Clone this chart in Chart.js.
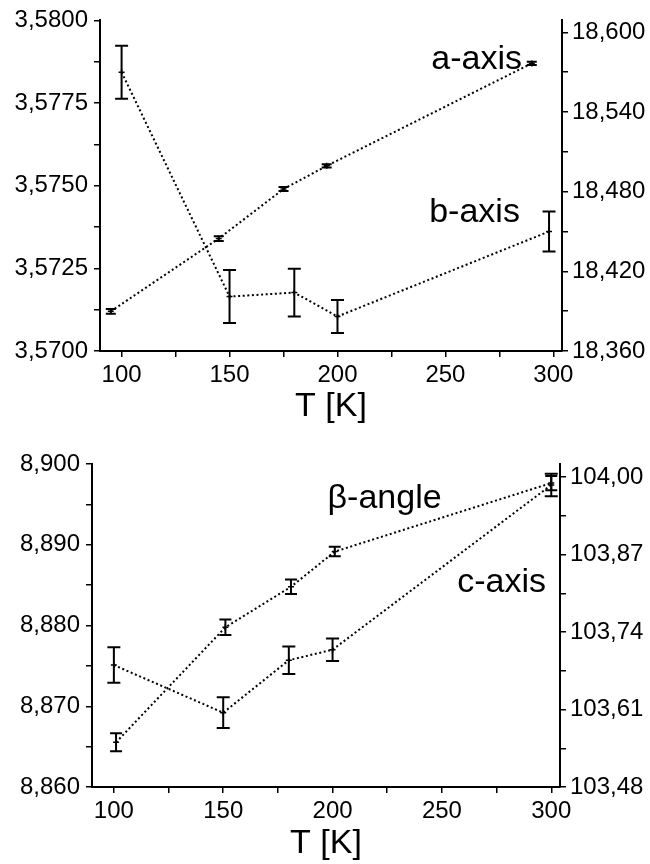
<!DOCTYPE html>
<html>
<head>
<meta charset="utf-8">
<script src="https://cdn.jsdelivr.net/npm/chart.js@4.4.1/dist/chart.umd.min.js"></script>
<style>
  body { margin: 0; background: #fff; }
  .box { position: absolute; left: 0; width: 650px; }
</style>
</head>
<body>
<div class="box" style="top:0;height:430px"><canvas id="chartTop" width="650" height="430"></canvas></div>
<div class="box" style="top:430px;height:434px"><canvas id="chartBottom" width="650" height="434"></canvas></div>
<script>
// Top panel: a-axis (left scale) and b-axis (right scale) vs temperature
const aT = [95, 145, 175, 195, 290];
const aVal = [3.5712, 3.5734, 3.5749, 3.5756, 3.5787];
const aErr = [0.00007, 0.00007, 0.00006, 0.00005, 0.00005];

const bT = [100, 150, 180, 200, 298];
const bVal = [18.570, 18.401, 18.404, 18.386, 18.450];
const bErr = [0.020, 0.020, 0.018, 0.0125, 0.015];

// Bottom panel: c-axis (left scale) and beta angle (right scale)
const cT = [100, 150, 180, 200, 300];
const cVal = [8.8751, 8.8692, 8.8757, 8.8770, 8.8974];
const cErr = [0.0022, 0.0019, 0.0017, 0.0014, 0.0014];

const betaT = [101, 151, 181, 201, 300];
const betaVal = [103.555, 103.748, 103.816, 103.875, 103.990];
const betaErr = [0.015, 0.013, 0.012, 0.008, 0.012];

// tick labels (major ticks); minor ticks go halfway between
const xTicks = [100, 150, 200, 250, 300];
const aTicks = [3.5700, 3.5725, 3.5750, 3.5775, 3.5800];
const bTicks = [18.360, 18.420, 18.480, 18.540, 18.600];
const cTicks = [8.860, 8.870, 8.880, 8.890, 8.900];
const betaTicks = [103.48, 103.61, 103.74, 103.87, 104.00];

const FONT = 'Liberation Sans, Arial, Helvetica, sans-serif';

function withMinors(majors) {
    const out = [];
    majors.forEach((v, i) => {
        out.push(v);
        if (i < majors.length - 1) out.push((v + majors[i + 1]) / 2);
    });
    return out;
}

function toPoints(xs, ys) {
    return xs.map((x, i) => ({ x: x, y: ys[i] }));
}

function comma(v, digits) {
    return v.toFixed(digits).replace('.', ',');
}

// error bars drawn through the chart's own scales
const errorBars = {
    id: 'errorBars',
    afterDatasetsDraw(chart) {
        const ctx = chart.ctx;
        chart.data.datasets.forEach((ds, i) => {
            const meta = chart.getDatasetMeta(i);
            const ys = chart.scales[ds.yAxisID];
            ctx.save();
            ctx.strokeStyle = '#000';
            ctx.lineWidth = 2;
            meta.data.forEach((pt, j) => {
                const v = ds.data[j].y;
                const e = ds.errors[j];
                const y1 = ys.getPixelForValue(v + e);
                const y2 = ys.getPixelForValue(v - e);
                const w = ds.capWidth / 2;
                ctx.beginPath();
                ctx.moveTo(pt.x, y1); ctx.lineTo(pt.x, y2);
                ctx.moveTo(pt.x - w, y1); ctx.lineTo(pt.x + w, y1);
                ctx.moveTo(pt.x - w, y2); ctx.lineTo(pt.x + w, y2);
                ctx.stroke();
            });
            ctx.restore();
        });
    }
};

// series names written inside the plot
const seriesNotes = {
    id: 'seriesNotes',
    afterDraw(chart, args, opts) {
        const ctx = chart.ctx;
        ctx.save();
        ctx.fillStyle = '#000';
        ctx.font = '34px ' + FONT;
        ctx.textBaseline = 'alphabetic';
        (opts.notes || []).forEach(n => {
            ctx.textAlign = n.align;
            ctx.fillText(n.text, chart.scales.x.getPixelForValue(n.x), chart.scales.yLeft.getPixelForValue(n.y));
        });
        ctx.restore();
    }
};

function lineSet(label, xs, ys, errs, axis, cap) {
    return {
        label: label,
        data: toPoints(xs, ys),
        errors: errs,
        capWidth: cap,
        yAxisID: axis,
        borderColor: '#000',
        borderWidth: 2,
        borderDash: [2, 2.6],
        pointStyle: 'cross',
        pointRadius: 3,
        pointBorderWidth: 1.5,
        pointBorderColor: '#000',
        fill: false,
        tension: 0
    };
}

function yScale(position, min, max, majors, digits, width) {
    return {
        type: 'linear',
        position: position,
        min: min,
        max: max,
        afterBuildTicks: s => { s.ticks = withMinors(majors).map(v => ({ value: v })); },
        afterFit: s => { s.width = width; },
        border: { display: true, color: '#000', width: 2 },
        grid: { drawOnChartArea: false, color: '#000', lineWidth: 1.5, tickLength: 6 },
        ticks: {
            autoSkip: false,
            color: '#000',
            padding: position === 'left' ? 6 : 4,
            font: { family: FONT, size: 24 },
            callback: (v, i) => (i % 2 === 0 ? comma(v, digits) : '')
        }
    };
}

function xScale(height, titlePad) {
    return {
        type: 'linear',
        min: 90,
        max: 304,
        afterBuildTicks: s => { s.ticks = withMinors(xTicks).map(v => ({ value: v })); },
        afterFit: s => { s.height = height; },
        border: { display: true, color: '#000', width: 2 },
        grid: { drawOnChartArea: false, color: '#000', lineWidth: 1.5, tickLength: 6 },
        ticks: {
            autoSkip: false,
            maxRotation: 0,
            color: '#000',
            padding: 4,
            font: { family: FONT, size: 24 },
            callback: (v, i) => (i % 2 === 0 ? String(v) : '')
        },
        title: {
            display: true,
            text: 'T [K]',
            color: '#000',
            font: { family: FONT, size: 34 },
            padding: { top: 0, bottom: titlePad }
        }
    };
}

const chartTop = new Chart(document.getElementById('chartTop').getContext('2d'), {
    type: 'line',
    data: {
        datasets: [
            lineSet('a-axis', aT, aVal, aErr, 'yLeft', 10),
            lineSet('b-axis', bT, bVal, bErr, 'yRight', 13)
        ]
    },
    options: {
        responsive: false,
        animation: false,
        layout: { padding: { top: 20, bottom: 0, left: 0, right: 0 } },
        plugins: {
            legend: { display: false },
            tooltip: { enabled: false },
            seriesNotes: {
                notes: [
                    { text: 'a-axis', x: 285.5, y: 3.57852, align: 'right' },
                    { text: 'b-axis', x: 284.5, y: 3.57389, align: 'right' }
                ]
            }
        },
        scales: {
            x: xScale(79, 3),
            yLeft: yScale('left', 3.5700, 3.5800, aTicks, 4, 100),
            yRight: yScale('right', 18.360, 18.609, bTicks, 3, 88)
        }
    },
    plugins: [errorBars, seriesNotes]
});

const chartBottom = new Chart(document.getElementById('chartBottom').getContext('2d'), {
    type: 'line',
    data: {
        datasets: [
            lineSet('c-axis', cT, cVal, cErr, 'yLeft', 13),
            lineSet('β-angle', betaT, betaVal, betaErr, 'yRight', 12)
        ]
    },
    options: {
        responsive: false,
        animation: false,
        layout: { padding: { top: 34, bottom: 0, left: 0, right: 0 } },
        plugins: {
            legend: { display: false },
            tooltip: { enabled: false },
            seriesNotes: {
                notes: [
                    { text: 'β-angle', x: 197.7, y: 8.8945, align: 'left' },
                    { text: 'c-axis', x: 297.6, y: 8.8841, align: 'right' }
                ]
            }
        },
        scales: {
            x: xScale(77, 0),
            yLeft: yScale('left', 8.860, 8.900, cTicks, 3, 92),
            yRight: yScale('right', 103.48, 104.022, betaTicks, 2, 90)
        }
    },
    plugins: [errorBars, seriesNotes]
});
</script>
</body>
</html>
